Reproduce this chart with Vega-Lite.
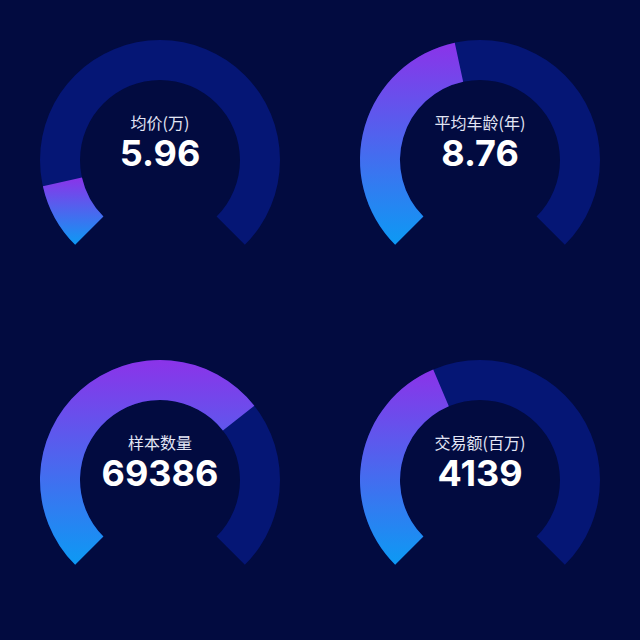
{
  "$schema": "https://vega.github.io/schema/vega-lite/v6.json",
  "background": "#020b40",
  "padding": 0,
  "data": {
    "values": [
      {"order": 1, "name": "均价(万)", "value": "5.96", "share": 0.12},
      {"order": 2, "name": "平均车龄(年)", "value": "8.76", "share": 0.455},
      {"order": 3, "name": "样本数量", "value": "69386", "share": 0.692},
      {"order": 4, "name": "交易额(百万)", "value": "4139", "share": 0.415}
    ]
  },
  "facet": {
    "field": "order",
    "type": "ordinal",
    "title": null,
    "header": {"labelFontSize": 0, "labelPadding": 0, "labelColor": "#020b40", "labelExpr": "''"}
  },
  "columns": 2,
  "spacing": 0,
  "spec": {
    "width": 320,
    "height": 320,
    "layer": [
      {
        "mark": {"type": "arc", "radius": 120, "radius2": 80, "theta": -2.35619, "theta2": 2.35619, "color": "#051675"},
        "encoding": {}
      },
      {
        "mark": {
          "type": "arc",
          "radius": 120,
          "radius2": 80,
          "color": {
            "gradient": "linear",
            "x1": 0, "y1": 1, "x2": 0, "y2": 0,
            "stops": [
              {"offset": 0, "color": "#0c9af4"},
              {"offset": 1, "color": "#8b33e9"}
            ]
          }
        },
        "encoding": {
          "theta": {"field": "share", "type": "quantitative", "stack": null, "scale": {"domain": [0, 1], "range": [-2.35619, 2.35619]}},
          "theta2": {"datum": 0}
        }
      },
      {
        "mark": {"type": "text", "font": "Noto Sans CJK SC", "fontSize": 16, "color": "#e4e6f5", "baseline": "middle", "dy": -36},
        "encoding": {"text": {"field": "name"}}
      },
      {
        "mark": {"type": "text", "font": "Inter", "fontSize": 36, "fontWeight": "bold", "color": "#ffffff", "baseline": "alphabetic", "dy": 6},
        "encoding": {"text": {"field": "value"}}
      }
    ]
  },
  "config": {
    "view": {"stroke": null}
  }
}
